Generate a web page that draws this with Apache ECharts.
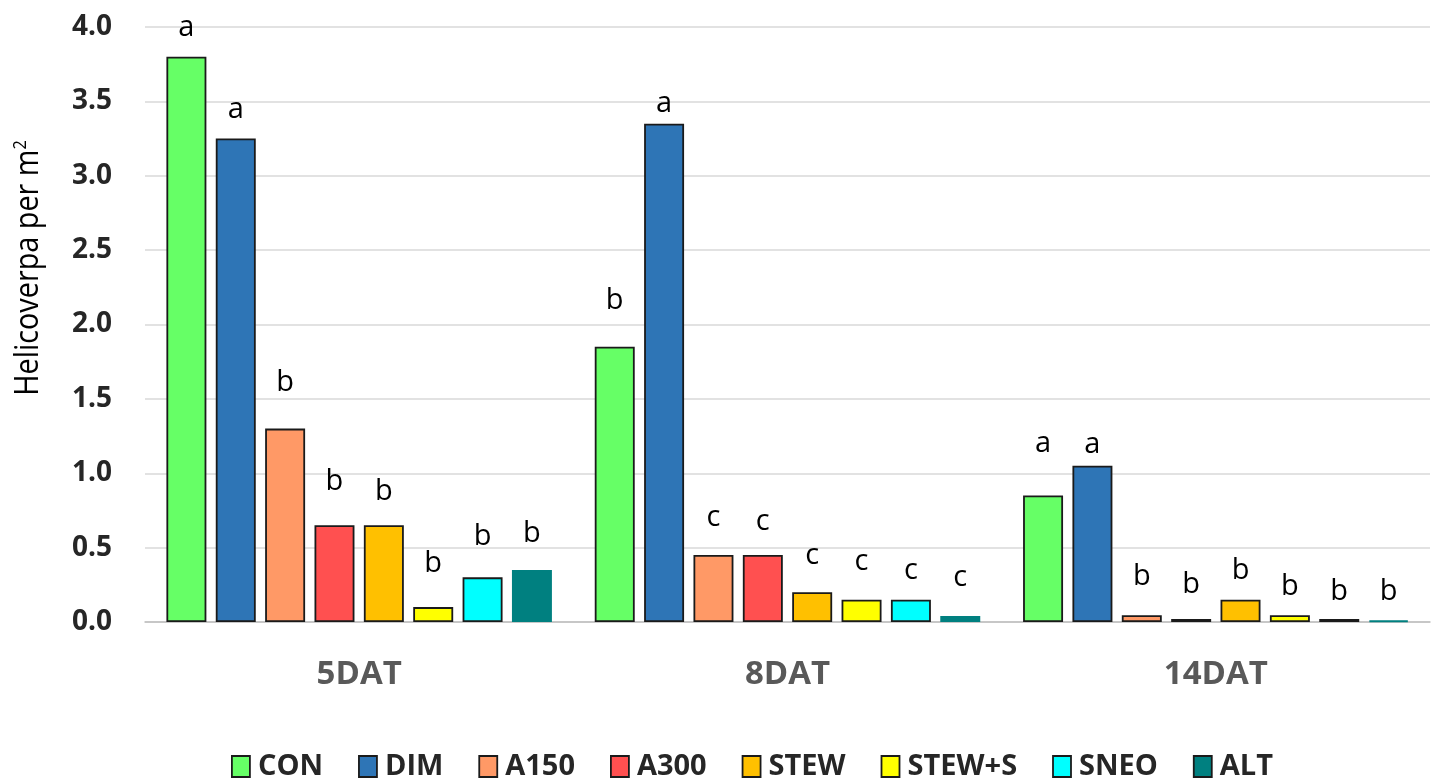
<!DOCTYPE html>
<html>
<head>
<meta charset="utf-8">
<script src="https://cdn.jsdelivr.net/npm/echarts@6/dist/echarts.min.js"></script>
<style>html,body{margin:0;padding:0;background:#fff}#c{width:1440px;height:780px}</style>
</head>
<body>
<div id="c"></div>
<script>
const categories = ['5DAT', '8DAT', '14DAT'];
const seriesNames = ['CON', 'DIM', 'A150', 'A300', 'STEW', 'STEW+S', 'SNEO', 'ALT'];
const CON    = [3.80, 1.85, 0.85];
const DIM    = [3.25, 3.35, 1.05];
const A150   = [1.30, 0.45, 0.045];
const A300   = [0.65, 0.45, 0.02];
const STEW   = [0.65, 0.20, 0.15];
const STEWS  = [0.10, 0.15, 0.045];
const SNEO   = [0.30, 0.15, 0.02];
const ALT    = [0.35, 0.04, 0.01];
const letters = {
  'CON':    ['a', 'b', 'a'],
  'DIM':    ['a', 'a', 'a'],
  'A150':   ['b', 'c', 'b'],
  'A300':   ['b', 'c', 'b'],
  'STEW':   ['b', 'c', 'b'],
  'STEW+S': ['b', 'c', 'b'],
  'SNEO':   ['b', 'c', 'b'],
  'ALT':    ['b', 'c', 'b']
};
const yTicks = [0, 0.5, 1.0, 1.5, 2.0, 2.5, 3.0, 3.5, 4.0];

// layout/style (kept separate from data)
const colors = ['#66FF66', '#2E75B6', '#FF9966', '#FF5050', '#FFC000', '#FFFF00', '#00FFFF', '#008080'];
const borders = ['#1a1a1a', '#1a1a1a', '#1a1a1a', '#1a1a1a', '#1a1a1a', '#1a1a1a', '#1a1a1a', '#008080'];
const labelGap = [
  [15, 32, 37],
  [14, 5, 7],
  [31, 23, 24],
  [29, 19, 20],
  [19, 22, 14],
  [29, 23, 14],
  [26, 14, 13],
  [22, 24, 14]
];

const values = [CON, DIM, A150, A300, STEW, STEWS, SNEO, ALT];
const FONT = '"Open Sans", "Noto Sans", sans-serif';

const series = seriesNames.map((name, i) => ({
  name: name,
  type: 'bar',
  barGap: '23.5%',
  barCategoryGap: '10%',
  itemStyle: { color: colors[i], borderColor: borders[i], borderWidth: 1.8 },
  emphasis: { disabled: true },
  data: values[i].map((v, j) => ({
    value: v,
    label: {
      show: true,
      position: 'top',
      distance: labelGap[i][j],
      formatter: letters[name][j],
      fontFamily: FONT,
      fontSize: 29,
      color: '#000'
    }
  }))
}));

const chart = echarts.init(document.getElementById('c'), null, { renderer: 'canvas' });
chart.setOption({
  animation: false,
  backgroundColor: '#fff',
  color: colors,
  grid: { left: 145, right: 10, top: 27, bottom: 158, containLabel: false },
  legend: {
    data: seriesNames,
    top: 747,
    left: 226,
    itemWidth: 18,
    itemHeight: 21,
    itemGap: 35,
    icon: 'rect',
    itemStyle: { borderColor: '#1a1a1a', borderWidth: 1.8 },
    textStyle: { fontFamily: FONT, fontSize: 29, fontWeight: 'bold', color: '#262626', padding: [0, 0, 0, 3] }
  },
  xAxis: {
    type: 'category',
    data: categories,
    axisTick: { show: false },
    axisLine: { lineStyle: { color: '#bfbfbf', width: 1.5 } },
    axisLabel: { fontFamily: FONT, fontSize: 33, fontWeight: 'bold', color: '#595959', margin: 36 }
  },
  yAxis: {
    type: 'value',
    min: yTicks[0],
    max: yTicks[yTicks.length - 1],
    interval: 0.5,
    axisLine: { show: false },
    axisTick: { show: false },
    splitLine: { lineStyle: { color: '#d9d9d9', width: 1.5 } },
    axisLabel: {
      fontFamily: FONT, fontSize: 28, fontWeight: 'bold', color: '#262626', margin: 33,
      formatter: v => v.toFixed(1)
    }
  },
  graphic: [{
    type: 'text',
    x: 29, y: 268,
    rotation: Math.PI / 2,
    scaleX: 0.9,
    style: {
      text: 'Helicoverpa per m{sup|2}',
      fontFamily: FONT, fontSize: 32, fill: '#000',
      align: 'center', verticalAlign: 'middle',
      rich: { sup: { fontSize: 18, verticalAlign: 'top', padding: [0, 0, 16, 0], fontFamily: FONT } }
    }
  }],
  series: series
});
</script>
</body>
</html>
